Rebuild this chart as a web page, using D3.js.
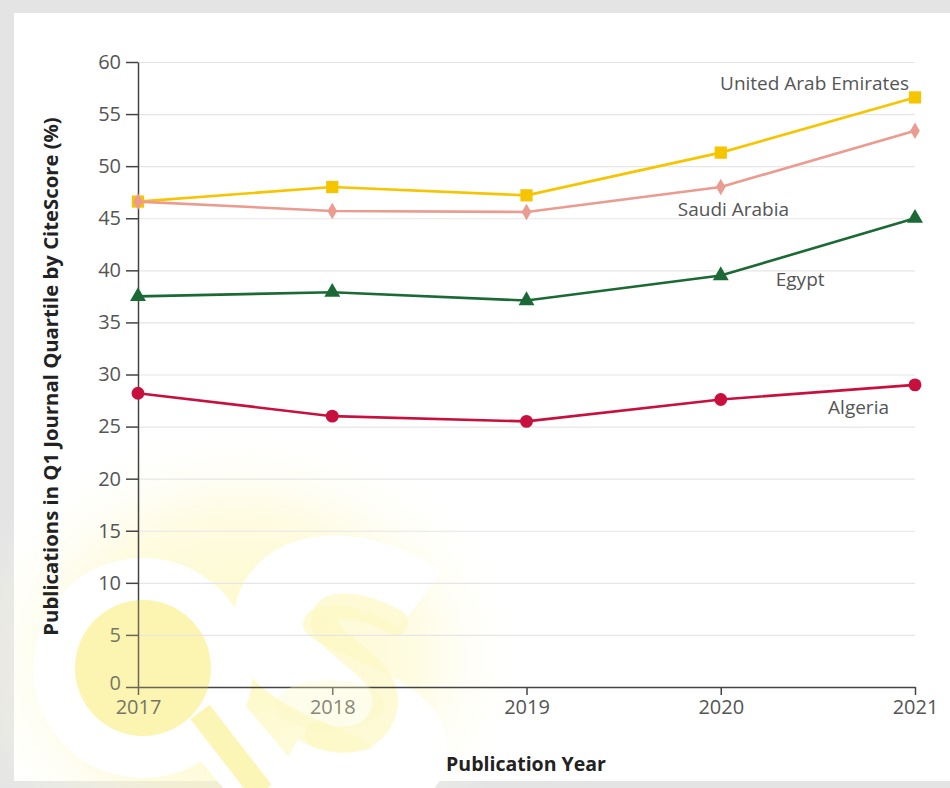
<!DOCTYPE html>
<html>
<head>
<meta charset="utf-8">
<script src="https://cdn.jsdelivr.net/npm/d3@7"></script>
<style>
  body { margin: 0; background: #e4e4e4; }
  svg { display: block; }
  .tick text { font-family: "Open Sans", sans-serif; font-size: 20px; fill: #555; }
  .grid line { stroke: #e6e6e6; stroke-width: 1.2; }
  .grid path { display: none; }
  .series-label { font-family: "Open Sans", sans-serif; font-size: 19px; fill: #555; }
  .axis-title { font-family: "Open Sans", sans-serif; font-weight: bold; font-size: 19.5px; fill: #222; }
</style>
</head>
<body>
<div id="chart"></div>
<script>
const years = [2017, 2018, 2019, 2020, 2021];
const uae = [46.6, 48.0, 47.2, 51.3, 56.6];
const saudi = [46.6, 45.7, 45.6, 48.0, 53.4];
const egypt = [37.5, 37.9, 37.1, 39.5, 45.0];
const algeria = [28.2, 26.0, 25.5, 27.6, 29.0];
const yTicks = [0, 5, 10, 15, 20, 25, 30, 35, 40, 45, 50, 55, 60];

// label anchors: [year, value] at the text baseline
const seriesList = [
    {name: 'United Arab Emirates', values: uae, color: '#f6c500', shape: d3.symbolSquare, size: 150, label: [2021, 57.3], anchor: 'end', dx: -6},
    {name: 'Saudi Arabia', values: saudi, color: '#eb9b8f', shape: d3.symbolDiamond, size: 80, label: [2020, 45.2], anchor: 'start', dx: -43},
    {name: 'Egypt', values: egypt, color: '#1b6a36', shape: d3.symbolTriangle, size: 110, label: [2020, 38.5], anchor: 'start', dx: 55},
    {name: 'Algeria', values: algeria, color: '#c8103e', shape: d3.symbolCircle, size: 130, label: [2021, 26.2], anchor: 'end', dx: -26}
];

const W = 950, H = 788;
const margin = {left: 138, right: 35, top: 62, bottom: 101};
const width = W - margin.left - margin.right;
const height = H - margin.top - margin.bottom;

const svg = d3.select('#chart').append('svg').attr('width', W).attr('height', H);

// white panel inside the grey frame
svg.append('rect').attr('x', 14).attr('y', 13).attr('width', W - 14).attr('height', 768).attr('fill', '#fff');

// QS watermark (decoration only)
const defs = svg.append('defs');
const glow = defs.append('radialGradient').attr('id', 'glow');
glow.append('stop').attr('offset', '0%').attr('stop-color', '#fdf7b0').attr('stop-opacity', 0.75);
glow.append('stop').attr('offset', '60%').attr('stop-color', '#fdf8c4').attr('stop-opacity', 0.5);
glow.append('stop').attr('offset', '100%').attr('stop-color', '#ffffff').attr('stop-opacity', 0);
const wm = svg.append('g').attr('class', 'watermark');
wm.append('ellipse').attr('cx', 240).attr('cy', 660).attr('rx', 290).attr('ry', 240).attr('fill', 'url(#glow)');
wm.append('circle').attr('cx', 143).attr('cy', 668).attr('r', 110).attr('fill', '#fff');
wm.append('path').attr('d', 'M195,700 L275,795').attr('stroke', '#fff').attr('stroke-width', 70);
wm.append('path')
    .attr('d', 'M420,600 C360,555 270,560 268,625 C266,690 400,690 412,745 C420,790 330,800 280,770')
    .attr('stroke', '#fff').attr('stroke-width', 70).attr('fill', 'none');
wm.append('circle').attr('cx', 143).attr('cy', 668).attr('r', 68).attr('fill', '#fcf4a4').attr('opacity', 0.8);
wm.append('path').attr('d', 'M200,712 L262,792').attr('stroke', '#fcf4a4').attr('stroke-width', 24).attr('opacity', 0.8);
wm.append('path')
    .attr('d', 'M395,622 C365,605 325,598 324,620 C323,645 390,665 385,705 C380,740 345,745 318,735')
    .attr('stroke', '#fdf7c0').attr('stroke-width', 26).attr('fill', 'none').attr('stroke-linecap', 'round').attr('opacity', 0.65);

const chart = svg.append('g').attr('transform', `translate(${margin.left}, ${margin.top})`);

const xScale = d3.scaleLinear().domain([2017, 2021]).range([0, width]);
const yScale = d3.scaleLinear().domain([0, 60]).range([height, 0]);

chart.append('g')
    .attr('class', 'grid')
    .call(d3.axisLeft(yScale).tickValues(yTicks.slice(1)).tickSize(-width).tickFormat(''));

const yAxis = chart.append('g')
    .call(d3.axisLeft(yScale).tickValues(yTicks).tickSize(12).tickPadding(5).tickSizeOuter(0));
yAxis.select('.domain').attr('stroke', '#444').attr('stroke-width', 1.5);
yAxis.selectAll('.tick line').attr('stroke', '#444').attr('stroke-width', 1.5);
// lift the "0" a little so it clears the 2017 label
yAxis.selectAll('.tick text').filter(d => d === 0).attr('dy', '0.1em');

const xAxis = chart.append('g')
    .attr('transform', `translate(0, ${height})`)
    .call(d3.axisBottom(xScale).tickValues(years).tickFormat(d3.format('d')).tickSize(8).tickPadding(5).tickSizeOuter(0));
xAxis.select('.domain').attr('stroke', '#444').attr('stroke-width', 1.5);
xAxis.selectAll('.tick line').attr('stroke', '#444').attr('stroke-width', 1.5);

// the watermark sits on top of the axis in the lower-left corner, washing it out
svg.append('circle').attr('cx', 143).attr('cy', 668).attr('r', 68).attr('fill', '#fcf4a4').attr('opacity', 0.2);
svg.append('ellipse').attr('cx', 330).attr('cy', 705).attr('rx', 55).attr('ry', 25).attr('fill', '#fdf7c0').attr('opacity', 0.3);

const line = d3.line().x((d, i) => xScale(years[i])).y(d => yScale(d));

seriesList.forEach(s => {
    chart.append('path')
        .datum(s.values)
        .attr('fill', 'none')
        .attr('stroke', s.color)
        .attr('stroke-width', 2.6)
        .attr('d', line);

    chart.selectAll(null)
        .data(s.values)
        .enter()
        .append('path')
        .attr('transform', (d, i) => `translate(${xScale(years[i])}, ${yScale(d)})`)
        .attr('d', d3.symbol().type(s.shape).size(s.size))
        .attr('fill', s.color);

    chart.append('text')
        .attr('class', 'series-label')
        .attr('x', xScale(s.label[0]) + s.dx)
        .attr('y', yScale(s.label[1]))
        .attr('text-anchor', s.anchor)
        .text(s.name);
});

svg.append('text')
    .attr('class', 'axis-title')
    .attr('transform', `translate(58, ${margin.top + height / 2 + 2}) rotate(-90)`)
    .attr('text-anchor', 'middle')
    .style('font-size', '20.3px')
    .text('Publications in Q1 Journal Quartile by CiteScore (%)');

svg.append('text')
    .attr('class', 'axis-title')
    .attr('x', 526)
    .attr('y', 771)
    .attr('text-anchor', 'middle')
    .text('Publication Year');
</script>
</body>
</html>
